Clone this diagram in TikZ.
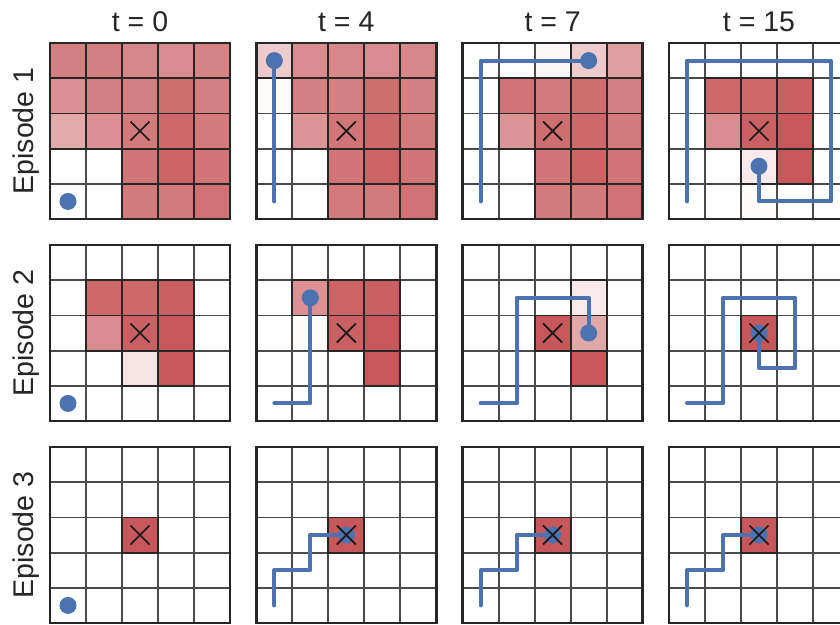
\documentclass[tikz,border=0pt]{standalone}
\usepackage{fontspec}
\setmainfont{Liberation Sans}
\definecolor{redc}{RGB}{196,78,82}
\definecolor{bluec}{RGB}{76,114,176}
\definecolor{framec}{RGB}{38,38,38}
\definecolor{gridc}{RGB}{75,75,75}
\tikzset{
  traj/.style={bluec, line width=4pt, line cap=round, line join=round},
  gridline/.style={gridc, line width=1.8pt},
  celledge/.style={framec, line width=1.8pt},
  outerframe/.style={framec, line width=2.8pt},
  xmark/.style={black!90, line width=1.7pt},
  lbl/.style={font=\fontsize{28.5}{34}\selectfont, text=framec, inner sep=0pt}
}
\newcommand\agentdot[1]{\fill[bluec] #1 circle[radius=8.5pt];}
\newcommand\gridpanel[4]{%
 \pgfmathsetmacro\xo{50+206.33*#1}%
 \pgfmathsetmacro\yo{43+202*#2}%
 \begin{scope}[xshift=\xo pt, yshift=-\yo pt, x=36pt, y=-35.2pt]
  \foreach \v [count=\k from 0] in {#3} {
    \pgfmathtruncatemacro\rr{div(\k,5)}
    \pgfmathtruncatemacro\cc{mod(\k,5)}
    \ifnum\v>0 \fill[redc!\v!white] (\cc,\rr) rectangle ++(1,1); \fi
  }
  \foreach \i in {1,...,4} {
    \draw[gridline] (\i,0) -- (\i,5);
    \draw[gridline] (0,\i) -- (5,\i);
  }
  \foreach \v [count=\k from 0] in {#3} {
    \pgfmathtruncatemacro\rr{div(\k,5)}
    \pgfmathtruncatemacro\cc{mod(\k,5)}
    \ifnum\v>9 \draw[celledge] (\cc,\rr) rectangle ++(1,1); \fi
  }
  \draw[outerframe] (0,0) rectangle (5,5);
  #4
  \draw[xmark] (2.5,2.5) +(-9.5pt,-9.5pt) -- +(9.5pt,9.5pt)
               (2.5,2.5) +(-9.5pt,9.5pt) -- +(9.5pt,-9.5pt);
 \end{scope}}
\begin{document}
\begin{tikzpicture}[x=1pt,y=-1pt]
\useasboundingbox (0,0) rectangle (840,624);
\clip (0,0) rectangle (840,624);
\fill[white] (0,0) rectangle (840,624);
% titles
\node[lbl, anchor=base] (t0) at (140,31) {t = 0};
\node[lbl, anchor=base] (t4) at (346.3,31) {t = 4};
\node[lbl, anchor=base] (t7) at (552.7,31) {t = 7};
\node[lbl, anchor=base] (t15) at (759,31) {t = 15};
\node[lbl, anchor=base, rotate=90] (ep1) at (33.5,131) {Episode 1};
\node[lbl, anchor=base, rotate=90] (ep2) at (33.5,333) {Episode 2};
\node[lbl, anchor=base, rotate=90] (ep3) at (33.5,535) {Episode 3};
% Episode 1
\gridpanel{0}{0}{72,72,68,65,70, 62,72,72,82,72, 48,62,75,85,75, 0,0,78,88,78, 0,0,75,75,80}
 {\agentdot{(0.5,4.5)}}
\gridpanel{1}{0}{30,65,68,65,68, 3,72,72,82,72, 0,60,78,85,75, 0,0,78,88,78, 0,0,75,75,80}
 {\draw[traj] (0.5,4.5) -- (0.5,0.5); \agentdot{(0.5,0.5)}}
\gridpanel{2}{0}{0,0,4,30,55, 0,80,75,82,72, 0,60,82,85,75, 0,0,78,88,78, 0,0,75,75,80}
 {\draw[traj] (0.5,4.5) -- (0.5,0.5) -- (3.5,0.5); \agentdot{(3.5,0.5)}}
\gridpanel{3}{0}{0,0,0,0,0, 0,85,85,90,0, 0,65,90,95,0, 0,0,12,95,0, 0,0,2,0,0}
 {\draw[traj] (0.5,4.5) -- (0.5,0.5) -- (4.5,0.5) -- (4.5,4.5) -- (2.5,4.5) -- (2.5,3.5); \agentdot{(2.5,3.5)}}
% Episode 2
\gridpanel{0}{1}{0,0,0,0,0, 0,85,85,90,0, 0,65,90,95,0, 0,0,15,95,0, 0,0,1,0,0}
 {\agentdot{(0.5,4.5)}}
\gridpanel{1}{1}{0,0,0,0,0, 0,62,88,90,0, 0,3,90,95,0, 0,0,0,95,0, 0,0,0,0,0}
 {\draw[traj] (0.5,4.5) -- (1.5,4.5) -- (1.5,1.5); \agentdot{(1.5,1.5)}}
\gridpanel{2}{1}{0,0,0,0,0, 0,0,1,12,0, 0,0,95,50,0, 0,0,0,95,0, 0,0,0,0,0}
 {\draw[traj] (0.5,4.5) -- (1.5,4.5) -- (1.5,1.5) -- (3.5,1.5) -- (3.5,2.5); \agentdot{(3.5,2.5)}}
\gridpanel{3}{1}{0,0,0,0,0, 0,0,0,0,0, 0,0,95,0,0, 0,0,0,0,0, 0,0,0,0,0}
 {\draw[traj] (0.5,4.5) -- (1.5,4.5) -- (1.5,1.5) -- (3.5,1.5) -- (3.5,3.5) -- (2.5,3.5) -- (2.5,2.5); \agentdot{(2.5,2.5)}}
% Episode 3
\gridpanel{0}{2}{0,0,0,0,0, 0,0,0,0,0, 0,0,95,0,0, 0,0,0,0,0, 0,0,0,0,0}
 {\agentdot{(0.5,4.5)}}
\gridpanel{1}{2}{0,0,0,0,0, 0,0,0,0,0, 0,0,95,0,0, 0,0,0,0,0, 0,0,0,0,0}
 {\draw[traj] (0.5,4.5) -- (0.5,3.5) -- (1.5,3.5) -- (1.5,2.5) -- (2.5,2.5); \agentdot{(2.5,2.5)}}
\gridpanel{2}{2}{0,0,0,0,0, 0,0,0,0,0, 0,0,95,0,0, 0,0,0,0,0, 0,0,0,0,0}
 {\draw[traj] (0.5,4.5) -- (0.5,3.5) -- (1.5,3.5) -- (1.5,2.5) -- (2.5,2.5); \agentdot{(2.5,2.5)}}
\gridpanel{3}{2}{0,0,0,0,0, 0,0,0,0,0, 0,0,95,0,0, 0,0,0,0,0, 0,0,0,0,0}
 {\draw[traj] (0.5,4.5) -- (0.5,3.5) -- (1.5,3.5) -- (1.5,2.5) -- (2.5,2.5); \agentdot{(2.5,2.5)}}
\end{tikzpicture}
\end{document}
